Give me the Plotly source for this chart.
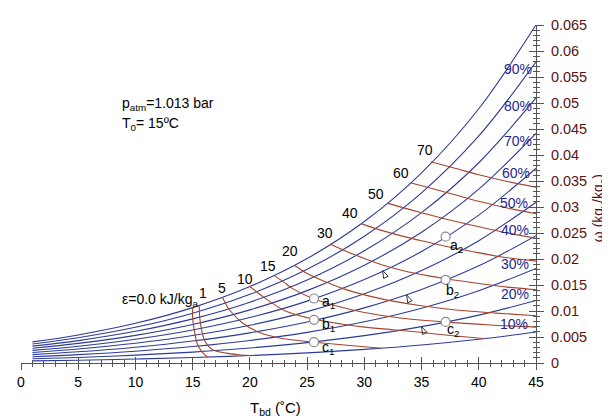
import plotly.graph_objects as go

# ---------------- data ----------------
T_grid = [1, 5, 10, 15, 20, 25, 30, 35, 40, 45]
rh_labels = ["10%", "20%", "30%", "40%", "50%", "60%", "70%", "80%", "90%", "100%"]
w_rh10 = [0.00040, 0.00054, 0.00076, 0.00105, 0.00144, 0.00195, 0.00262, 0.00347, 0.00457, 0.00595]
w_rh20 = [0.00081, 0.00107, 0.00151, 0.00210, 0.00289, 0.00392, 0.00526, 0.00699, 0.00920, 0.01201]
w_rh30 = [0.00121, 0.00161, 0.00227, 0.00316, 0.00434, 0.00589, 0.00792, 0.01054, 0.01390, 0.01818]
w_rh40 = [0.00162, 0.00215, 0.00303, 0.00422, 0.00580, 0.00788, 0.01060, 0.01413, 0.01868, 0.02448]
w_rh50 = [0.00202, 0.00269, 0.00379, 0.00528, 0.00726, 0.00988, 0.01331, 0.01777, 0.02352, 0.03091]
w_rh60 = [0.00243, 0.00323, 0.00456, 0.00634, 0.00874, 0.01190, 0.01604, 0.02144, 0.02844, 0.03746]
w_rh70 = [0.00284, 0.00377, 0.00532, 0.00741, 0.01022, 0.01392, 0.01880, 0.02516, 0.03344, 0.04415]
w_rh80 = [0.00324, 0.00431, 0.00609, 0.00849, 0.01170, 0.01596, 0.02158, 0.02892, 0.03851, 0.05097]
w_rh90 = [0.00365, 0.00486, 0.00686, 0.00957, 0.01320, 0.01802, 0.02438, 0.03273, 0.04366, 0.05793]
w_rh100 = [0.00406, 0.00540, 0.00763, 0.01065, 0.01470, 0.02008, 0.02720, 0.03658, 0.04890, 0.06504]

# exergy lines (kJ/kg_a)
eps0_T = [15.0, 15.0, 15.15, 15.4, 15.8, 16.3]
eps0_w = [0.0106, 0.0086, 0.0062, 0.0037, 0.0022, 0.00114]
eps1_T = [15.57, 15.62, 15.8, 16.1, 16.7, 17.9, 19.0, 20.0]
eps1_w = [0.0111, 0.0087, 0.0062, 0.0041, 0.0026, 0.0019, 0.0016, 0.00144]
eps5_T = [17.6, 17.9, 18.3, 19.3, 20.8, 22.8, 25.6, 28.5, 31.5]
eps5_w = [0.0127, 0.0113, 0.0100, 0.0078, 0.0059, 0.0047, 0.0040, 0.0034, 0.00285]
eps10_T = [19.95, 21.3, 23.1, 25.6, 28.0, 30.0, 32.5, 34.9, 37.5, 40.4]
eps10_w = [0.0148, 0.0125, 0.0100, 0.0084, 0.0075, 0.0069, 0.0064, 0.0059, 0.0053, 0.0047]
eps15_T = [22.07, 23.0, 23.66, 25.5, 27.5, 30.0, 33.0, 36.9, 41.0, 45.0]
eps15_w = [0.0169, 0.0155, 0.0144, 0.0124, 0.0110, 0.0097, 0.0087, 0.0079, 0.0073, 0.0069]
eps20_T = [23.9, 25.0, 26.5, 28.0, 30.0, 32.5, 35.0, 38.0, 41.5, 45.0]
eps20_w = [0.0188, 0.0172, 0.0157, 0.0144, 0.0131, 0.0119, 0.0110, 0.0102, 0.0096, 0.0091]
eps30_T = [27.0, 28.5, 30.0, 31.5, 33.5, 35.5, 37.1, 40.0, 42.5, 45.0]
eps30_w = [0.0229, 0.0214, 0.0201, 0.0189, 0.0177, 0.0168, 0.0162, 0.0153, 0.0146, 0.0141]
eps40_T = [29.7, 31.5, 33.5, 35.0, 37.0, 39.5, 42.0, 45.0]
eps40_w = [0.0268, 0.0255, 0.0243, 0.0235, 0.0225, 0.0214, 0.0204, 0.0196]
eps50_T = [32.05, 34.0, 36.0, 38.0, 40.0, 42.5, 45.0]
eps50_w = [0.0307, 0.0295, 0.0283, 0.0272, 0.0262, 0.0250, 0.0240]
eps60_T = [34.1, 36.0, 38.0, 40.0, 42.5, 45.0]
eps60_w = [0.0346, 0.0335, 0.0323, 0.0311, 0.0298, 0.0287]
eps70_T = [35.8, 38.0, 40.0, 42.5, 45.0]
eps70_w = [0.0387, 0.0374, 0.0362, 0.0349, 0.0338]
eps_labels = ["ε=0.0 kJ/kg<sub>a</sub>", "1", "5", "10", "15", "20", "30", "40", "50", "60", "70"]

# state points
pt_names = ["a<sub>1</sub>", "b<sub>1</sub>", "c<sub>1</sub>", "a<sub>2</sub>", "b<sub>2</sub>", "c<sub>2</sub>"]
pt_T = [25.6, 25.6, 25.6, 37.1, 37.1, 37.1]
pt_w = [0.0124, 0.0083, 0.0040, 0.0243, 0.0160, 0.0079]
arrow_T = [31.6, 33.7, 35.0]
arrow_w = [0.0178, 0.0131, 0.0070]

x_tick_vals = [0, 5, 10, 15, 20, 25, 30, 35, 40, 45]
y_tick_vals = [0, 0.005, 0.01, 0.015, 0.02, 0.025, 0.03, 0.035, 0.04, 0.045, 0.05, 0.055, 0.06, 0.065]
y_tick_text = ["0", "0.005", "0.01", "0.015", "0.02", "0.025", "0.03", "0.035", "0.04", "0.045",
               "0.05", "0.055", "0.06", "0.065"]

# ---------------- styling / layout ----------------
W, H = 610, 419
OFF = 8                       # page body margin of the html page
PL, PR, PT, PB = 17, 536, 17, 363   # wanted plot-area edges in page pixels
ML, MT = PL - OFF, PT - OFF
MR, MB = W - (PR - OFF), H - (PB - OFF)
XR = (0, 45)
YR = (0, 0.065)
BLUE = "#2d3b98"
RED = "#a3452e"
NAVY = "#25258f"
MAROON = "#5a1212"
AX = "#555555"
FONT = "Liberation Sans, Arial, sans-serif"


def px(xp, yp):
    """page pixel -> data coordinates"""
    return (XR[0] + (xp - PL) / (PR - PL) * (XR[1] - XR[0]),
            YR[0] + (PB - yp) / (PB - PT) * (YR[1] - YR[0]))


def pp(xp, yp):
    """page pixel -> paper coordinates of the plot area"""
    return ((xp - PL) / (PR - PL), (PB - yp) / (PB - PT))


fig = go.Figure()

rh_series = [w_rh10, w_rh20, w_rh30, w_rh40, w_rh50, w_rh60, w_rh70, w_rh80, w_rh90, w_rh100]
for name, ws in zip(rh_labels, rh_series):
    fig.add_trace(go.Scatter(x=T_grid, y=ws, mode="lines", name=name,
                             line=dict(color=BLUE, width=1.1, shape="spline", smoothing=1),
                             hoverinfo="skip", showlegend=False))

eps_series = [(eps0_T, eps0_w), (eps1_T, eps1_w), (eps5_T, eps5_w), (eps10_T, eps10_w),
              (eps15_T, eps15_w), (eps20_T, eps20_w), (eps30_T, eps30_w), (eps40_T, eps40_w),
              (eps50_T, eps50_w), (eps60_T, eps60_w), (eps70_T, eps70_w)]
for ts, ws in eps_series:
    fig.add_trace(go.Scatter(x=ts, y=ws, mode="lines",
                             line=dict(color=RED, width=1.1, shape="spline", smoothing=0.8),
                             hoverinfo="skip", showlegend=False))

fig.add_trace(go.Scatter(x=arrow_T, y=arrow_w, mode="markers",
                         marker=dict(symbol="arrow-open", size=8, angle=-25, color="#333333",
                                     line=dict(color="#333333", width=1)),
                         hoverinfo="skip", showlegend=False))

fig.add_trace(go.Scatter(x=pt_T, y=pt_w, mode="markers",
                         marker=dict(symbol="circle", size=9, color="white",
                                     line=dict(color="#8a8a8a", width=1.2)),
                         hoverinfo="skip", showlegend=False))

# helper trace for the secondary (inward tick) axes
fig.add_trace(go.Scatter(x=T_grid, y=w_rh10, mode="none", xaxis="x2", yaxis="y2",
                         hoverinfo="skip", showlegend=False))

ann = []
eps_label_px = [(197, 298), (200, 291), (220, 286.5), (242.5, 276.5), (266, 263.5), (288.5, 248.5),
                (323.5, 229.5), (348.5, 209.5), (375, 190.5), (400, 168.5), (424.5, 144.5)]
for i, (txt, (xp, yp)) in enumerate(zip(eps_labels, eps_label_px)):
    x, y = px(xp, yp)
    ann.append(dict(x=x, y=y, text=txt, showarrow=False,
                    xanchor="right" if i == 0 else "center", yanchor="middle",
                    font=dict(size=14, color="black", family=FONT)))

rh_label_px = [(513.5, 323), (514.5, 292.5), (514.5, 261.5), (514.5, 227), (513.5, 199.5),
               (516, 168), (517.5, 136), (518, 100), (518, 62)]
for txt, (xp, yp) in zip(rh_labels[:9], rh_label_px):
    x, y = px(xp, yp)
    ann.append(dict(x=x, y=y, text=txt, showarrow=False, xanchor="center", yanchor="middle",
                    font=dict(size=14, color=NAVY, family=FONT)))

pt_label_px = [(318, 301), (318, 324), (318, 348), (447, 243), (443, 289), (444, 329)]
for txt, (xp, yp) in zip(pt_names, pt_label_px):
    x, y = px(xp, yp)
    ann.append(dict(x=x, y=y, text=txt, showarrow=False, xanchor="left", yanchor="middle",
                    font=dict(size=14, color="black", family=FONT)))

for txt, (xp, yp) in [("p<sub>atm</sub>=1.013 bar", (117, 98)), ("T<sub>0</sub>= 15ºC", (117, 118))]:
    x, y = px(xp, yp)
    ann.append(dict(x=x, y=y, text=txt, showarrow=False, xanchor="left", yanchor="middle",
                    font=dict(size=14, color="black", family=FONT)))

x, y = pp(273, 410)
ann.append(dict(x=x, y=y, xref="paper", yref="paper", text="T<sub>bd</sub> (˚C)", showarrow=False,
                xanchor="center", yanchor="middle", font=dict(size=15, color="black", family=FONT)))
x, y = pp(599, 205)
ann.append(dict(x=x, y=y, xref="paper", yref="paper", text="ω (kg<sub>v</sub>/kg<sub>a</sub>)",
                textangle=-90, showarrow=False, xanchor="center", yanchor="middle",
                font=dict(size=14, color=MAROON, family=FONT)))

fig.update_layout(
    width=W, height=H,
    margin=dict(l=ML, r=MR, t=MT, b=MB, pad=0),
    paper_bgcolor="white", plot_bgcolor="white",
    font=dict(family=FONT),
    annotations=ann,
    xaxis=dict(range=list(XR), showgrid=False, zeroline=False, showline=True, linecolor=AX,
               linewidth=1, ticks="outside", ticklen=6, tickcolor=AX, tickwidth=1,
               tickmode="array", tickvals=x_tick_vals,
               minor=dict(ticks="outside", ticklen=3, tickcolor=AX, dtick=1, tick0=0, showgrid=False),
               tickfont=dict(size=14, color="black", family=FONT)),
    xaxis2=dict(range=list(XR), overlaying="x", anchor="y", side="bottom", showgrid=False,
                zeroline=False, showline=False, ticks="inside", ticklen=6, tickcolor=AX,
                tickmode="array", tickvals=x_tick_vals, showticklabels=False,
                minor=dict(ticks="inside", ticklen=3, tickcolor=AX, dtick=1, tick0=0, showgrid=False)),
    yaxis=dict(range=list(YR), side="right", showgrid=False, zeroline=False, showline=True,
               linecolor=AX, linewidth=1, ticks="outside", ticklen=7, tickcolor=AX,
               tickmode="array", tickvals=y_tick_vals, ticktext=y_tick_text,
               minor=dict(ticks="outside", ticklen=3, tickcolor=AX, dtick=0.001, tick0=0, showgrid=False),
               tickfont=dict(size=14.5, color=MAROON, family=FONT), ticklabelstandoff=4),
    yaxis2=dict(range=list(YR), overlaying="y", anchor="x", side="right", showgrid=False,
                zeroline=False, showline=False, ticks="inside", ticklen=7, tickcolor=AX,
                tickmode="array", tickvals=y_tick_vals, showticklabels=False,
                minor=dict(ticks="inside", ticklen=3, tickcolor=AX, dtick=0.001, tick0=0, showgrid=False)),
)

fig.write_html("out.html")
